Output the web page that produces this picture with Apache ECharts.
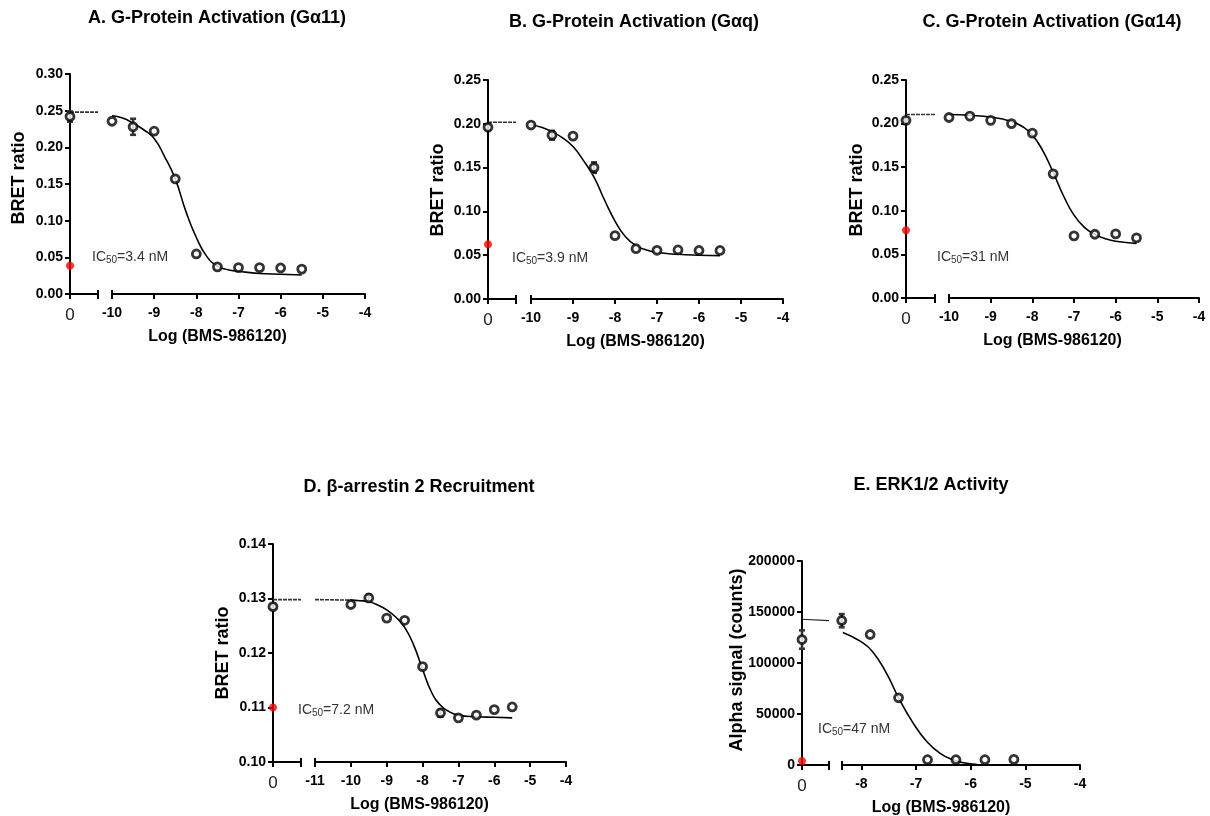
<!DOCTYPE html>
<html>
<head>
<meta charset="utf-8">
<title>BMS-986120 concentration-response</title>
<script src="https://cdn.jsdelivr.net/npm/echarts@6/dist/echarts.min.js"></script>
<style>
  html, body { margin: 0; padding: 0; background: #fff; }
  #chart { width: 1210px; height: 816px; }
</style>
</head>
<body>
<div id="chart"></div>
<script>
// dose series (log M)
const logDose = [-10, -9.5, -9, -8.5, -8, -7.5, -7, -6.5, -6, -5.5]
const logDoseE = [-8.36, -7.84, -7.32, -6.79, -6.27, -5.74, -5.21]

// A. G alpha 11
const bretA = [0.2356, 0.228, 0.222, 0.157, 0.0546, 0.037, 0.036, 0.036, 0.0355, 0.034]
const vehicleA = [0.242, 0.235, 0.249] // mean, low, high
const basalA = 0.0386
const topA = [0.248, 0.248]
const errA = [[-9.5, 0.217, 0.239]]
const fitXA = [-10, -9.75, -9.5, -9.25, -9, -8.75, -8.5, -8.25, -8, -7.75, -7.5, -7.25, -7, -6.5, -6, -5.5]
const fitYA = [0.243, 0.240, 0.233, 0.224, 0.212, 0.187, 0.157, 0.113, 0.077, 0.051, 0.038, 0.033, 0.031, 0.028, 0.027, 0.026]

// B. G alpha q
const bretB = [0.1986, 0.187, 0.186, 0.150, 0.0723, 0.0574, 0.0556, 0.056, 0.0554, 0.0554]
const vehicleB = [0.196, 0.193, 0.199]
const basalB = 0.0624
const topB = [0.2017, 0.2017]
const errB = [[-9.5, 0.182, 0.192], [-8.5, 0.144, 0.156]]
const fitXB = [-10, -9.75, -9.5, -9.25, -9, -8.75, -8.5, -8.25, -8, -7.75, -7.5, -7.25, -7, -6.5, -6, -5.5]
const fitYB = [0.199, 0.196, 0.191, 0.184, 0.174, 0.158, 0.139, 0.113, 0.089, 0.071, 0.061, 0.056, 0.053, 0.051, 0.050, 0.0495]

// C. G alpha 14
const bretC = [0.207, 0.2086, 0.2037, 0.200, 0.189, 0.1424, 0.0712, 0.0731, 0.0735, 0.0689]
const vehicleC = [0.2037, 0.2037, 0.2037]
const basalC = 0.0777
const topC = [0.2105, 0.2105]
const errC = []
const fitXC = [-10, -9.5, -9, -8.5, -8.25, -8, -7.75, -7.5, -7.25, -7, -6.75, -6.5, -6.25, -6, -5.5]
const fitYC = [0.2105, 0.2095, 0.2075, 0.2025, 0.197, 0.187, 0.169, 0.144, 0.117, 0.095, 0.081, 0.073, 0.068, 0.065, 0.0625]

// D. beta-arrestin 2
const bretD = [0.1289, 0.1301, 0.1264, 0.1260, 0.1175, 0.1090, 0.1081, 0.1086, 0.1096, 0.1101]
const vehicleD = [0.1285, 0.1281, 0.1289]
const basalD = 0.1100
const topD = [0.1298, 0.1298]
const errD = [[-9.5, 0.1295, 0.1307], [-7.5, 0.1083, 0.1096]]
const leadD = [[-11, 0.1298], [-10, 0.1297]]
const fitXD = [-10, -9.75, -9.5, -9.25, -9, -8.75, -8.5, -8.25, -8, -7.75, -7.5, -7.25, -7, -6.5, -6, -5.5]
const fitYD = [0.1297, 0.1296, 0.1294, 0.1288, 0.1279, 0.1266, 0.1247, 0.1215, 0.1170, 0.1128, 0.1104, 0.1092, 0.1086, 0.1083, 0.1082, 0.1081]

// E. ERK1/2
const alphaE = [141650, 127950, 65900, 5200, 5200, 5200, 5500]
const vehicleE = [123000, 114000, 132000]
const basalE = 3900
const topE = [142900, 141600]
const errE = [[-8.36, 135000, 148000]]
const fitXE = [-8.34, -8, -7.79, -7.54, -7.32, -7.05, -6.8, -6.56, -6.32, -6.07, -5.89]
const fitYE = [129900, 120700, 110900, 89800, 65900, 40800, 22800, 11400, 4900, 1600, 700]

const titles = ['A. G-Protein Activation (G\u03b111)', 'B. G-Protein Activation (G\u03b1q)',
  'C. G-Protein Activation (G\u03b114)', 'D. \u03b2-arrestin 2 Recruitment', 'E. ERK1/2 Activity']
const ic50Text = ['3.4 nM', '3.9 nM', '31 nM', '7.2 nM', '47 nM']
const yNames = ['BRET ratio', 'BRET ratio', 'BRET ratio', 'BRET ratio', 'Alpha signal (counts)']
const xTicksABC = [-10, -9, -8, -7, -6, -5, -4]
const xTicksD = [-11, -10, -9, -8, -7, -6, -5, -4]
const xTicksE = [-8, -7, -6, -5, -4]

const FONT = '"Liberation Sans", Arial, Helvetica, sans-serif'
const BASAL_SYMBOL = 'path://M-1,-3L1,-3L1,-1L3,-1L3,1L1,1L1,3L-1,3L-1,1L-3,1L-3,-1L-1,-1Z' +
  'M-2.8,-1.4L-1.4,-2.8L0,-1.4L1.4,-2.8L2.8,-1.4L1.4,0L2.8,1.4L1.4,2.8L0,1.4L-1.4,2.8L-2.8,1.4L-1.4,0Z'

const panels = [
  { box: { yx: 70, brk: 98, mx: 112, ex: 365, top: 74, bot: 294 }, title: [217, 18], yName: [19, 178], ic: [92, 257],
    xMin: -10, ticks: xTicksABC, yMin: 0, yMax: 0.30, yStep: 0.05, digits: 2,
    x: logDose, y: bretA, vehicle: vehicleA, basal: basalA, top: topA, err: errA, fitX: fitXA, fitY: fitYA },
  { box: { yx: 488, brk: 516, mx: 531, ex: 783, top: 80, bot: 299 }, title: [634, 22], yName: [438, 190], ic: [512, 258],
    xMin: -10, ticks: xTicksABC, yMin: 0, yMax: 0.25, yStep: 0.05, digits: 2,
    x: logDose, y: bretB, vehicle: vehicleB, basal: basalB, top: topB, err: errB, fitX: fitXB, fitY: fitYB },
  { box: { yx: 906, brk: 935, mx: 949, ex: 1199, top: 80, bot: 298 }, title: [1052, 22], yName: [857, 190], ic: [937, 257],
    xMin: -10, ticks: xTicksABC, yMin: 0, yMax: 0.25, yStep: 0.05, digits: 2,
    x: logDose, y: bretC, vehicle: vehicleC, basal: basalC, top: topC, err: errC, fitX: fitXC, fitY: fitYC },
  { box: { yx: 273, brk: 301, mx: 315, ex: 566, top: 544, bot: 762 }, title: [419, 487], yName: [223, 653], ic: [298, 710],
    xMin: -11, ticks: xTicksD, yMin: 0.10, yMax: 0.14, yStep: 0.01, digits: 2,
    x: logDose, y: bretD, vehicle: vehicleD, basal: basalD, top: topD, err: errD, fitX: fitXD, fitY: fitYD, lead: leadD },
  { box: { yx: 802, brk: 829, mx: 842, ex: 1080, top: 561, bot: 765 }, title: [931, 485], yName: [737, 660], ic: [818, 729],
    xMin: -8.355, ticks: xTicksE, yMin: 0, yMax: 200000, yStep: 50000, digits: 0, solidTop: true,
    x: logDoseE, y: alphaE, vehicle: vehicleE, basal: basalE, top: topE, err: errE, fitX: fitXE, fitY: fitYE }
]

const grid = []
const xAxis = []
const yAxis = []
const series = []
const graphic = []

const axisLine = { show: true, onZero: false, lineStyle: { color: '#000', width: 2 } }
const tickStyle = { color: '#000', width: 2 }

function renderErr(params, api) {
  const x = api.value(0)
  const lo = api.coord([x, api.value(1)])
  const hi = api.coord([x, api.value(2)])
  const st = { stroke: '#333', lineWidth: 2.5 }
  return {
    type: 'group',
    children: [
      { type: 'line', shape: { x1: lo[0], y1: lo[1], x2: hi[0], y2: hi[1] }, style: st },
      { type: 'line', shape: { x1: lo[0] - 3, y1: lo[1], x2: lo[0] + 3, y2: lo[1] }, style: st },
      { type: 'line', shape: { x1: hi[0] - 3, y1: hi[1], x2: hi[0] + 3, y2: hi[1] }, style: st }
    ]
  }
}

const openCircle = {
  type: 'scatter', symbol: 'circle', symbolSize: 8, clip: false, silent: true, z: 5,
  itemStyle: { color: '#fff', borderColor: '#000', borderWidth: 2.8 }
}

panels.forEach((p, i) => {
  const b = p.box
  const h = b.bot - b.top
  const gL = grid.length
  grid.push({ left: b.yx, top: b.top, width: b.brk - b.yx, height: h })
  const gM = grid.length
  grid.push({ left: b.mx, top: b.top, width: b.ex - b.mx, height: h })

  // control segment axis ("0")
  const xL = xAxis.length
  xAxis.push({
    type: 'value', gridIndex: gL, min: 0, max: 1, position: 'bottom',
    axisLine: axisLine, splitLine: { show: false },
    axisTick: { show: true, customValues: [0, 1], length: 5, lineStyle: tickStyle },
    axisLabel: { customValues: [0], formatter: () => '0', fontFamily: FONT, fontSize: 17, color: '#222', margin: 13 }
  })
  xAxis.push({
    type: 'value', gridIndex: gL, min: 0, max: 1, position: 'bottom',
    axisLine: { show: false }, splitLine: { show: false }, axisLabel: { show: false },
    axisTick: { show: true, inside: true, customValues: [1], length: 4, lineStyle: tickStyle }
  })
  // dose axis
  const xM = xAxis.length
  xAxis.push({
    type: 'value', gridIndex: gM, min: p.xMin, max: -4, position: 'bottom',
    axisLine: axisLine, splitLine: { show: false },
    axisTick: { show: true, customValues: [p.xMin].concat(p.ticks), length: 5, lineStyle: tickStyle },
    axisLabel: {
      customValues: p.ticks, formatter: v => String(v), fontFamily: FONT,
      fontSize: 14, fontWeight: 'bold', color: '#000', margin: 12
    }
  })
  xAxis.push({
    type: 'value', gridIndex: gM, min: p.xMin, max: -4, position: 'bottom',
    axisLine: { show: false }, splitLine: { show: false }, axisLabel: { show: false },
    axisTick: { show: true, inside: true, customValues: [p.xMin], length: 4, lineStyle: tickStyle }
  })

  const yL = yAxis.length
  yAxis.push({
    type: 'value', gridIndex: gL, min: p.yMin, max: p.yMax, interval: p.yStep,
    axisLine: axisLine, splitLine: { show: false },
    axisTick: { show: true, length: 5, lineStyle: tickStyle },
    axisLabel: {
      formatter: v => v.toFixed(p.digits), fontFamily: FONT, fontSize: 14,
      fontWeight: 'bold', color: '#000', margin: 7
    }
  })
  const yM = yAxis.length
  yAxis.push({ type: 'value', gridIndex: gM, min: p.yMin, max: p.yMax, show: false, splitLine: { show: false } })

  // control segment
  series.push({
    type: 'line', xAxisIndex: xL, yAxisIndex: yL, showSymbol: false, silent: true, z: 2,
    data: [[0, p.top[0]], [1, p.top[1]]],
    lineStyle: p.solidTop ? { color: '#222', width: 1.2 } : { color: '#333', width: 1.6, type: [4, 1] }
  })
  series.push({
    type: 'custom', xAxisIndex: xL, yAxisIndex: yL, renderItem: renderErr, clip: false, silent: true, z: 3,
    encode: { x: 0, y: [1, 2] }, data: [[0, p.vehicle[1], p.vehicle[2]]]
  })
  series.push(Object.assign({}, openCircle, { xAxisIndex: xL, yAxisIndex: yL, data: [[0, p.vehicle[0]]] }))
  series.push({
    type: 'scatter', xAxisIndex: xL, yAxisIndex: yL, symbol: BASAL_SYMBOL, symbolSize: 8,
    clip: false, silent: true, z: 6, itemStyle: { color: '#ff0000' }, data: [[0, p.basal]]
  })

  // dose-response segment
  if (p.lead) {
    series.push({
      type: 'line', xAxisIndex: xM, yAxisIndex: yM, showSymbol: false, silent: true, z: 2,
      data: p.lead, lineStyle: { color: '#333', width: 1.6, type: [4, 1] }
    })
  }
  series.push({
    type: 'line', xAxisIndex: xM, yAxisIndex: yM, showSymbol: false, silent: true, z: 2,
    smooth: 0.5,
    data: p.fitX.map((x, k) => [x, p.fitY[k]]),
    lineStyle: { color: '#000', width: 1.6 }
  })
  series.push({
    type: 'custom', xAxisIndex: xM, yAxisIndex: yM, renderItem: renderErr, clip: false, silent: true, z: 3,
    encode: { x: 0, y: [1, 2] }, data: p.err
  })
  series.push(Object.assign({}, openCircle, {
    xAxisIndex: xM, yAxisIndex: yM, data: p.x.map((x, k) => [x, p.y[k]])
  }))

  // texts
  graphic.push({
    type: 'text', x: p.title[0], y: p.title[1], silent: true,
    style: { text: titles[i], font: 'bold 18px ' + FONT, fill: '#000',
      align: 'center', verticalAlign: 'middle', textAlign: 'center', textVerticalAlign: 'middle' }
  })
  graphic.push({
    type: 'text', x: p.yName[0], y: p.yName[1], rotation: Math.PI / 2, silent: true,
    style: { text: yNames[i], font: 'bold 18px ' + FONT, fill: '#000',
      align: 'center', verticalAlign: 'middle', textAlign: 'center', textVerticalAlign: 'middle' }
  })
  graphic.push({
    type: 'text', x: (b.yx + b.ex) / 2, y: b.bot + 43, silent: true,
    style: { text: 'Log (BMS-986120)', font: 'bold 16px ' + FONT, fill: '#000',
      align: 'center', verticalAlign: 'middle', textAlign: 'center', textVerticalAlign: 'middle' }
  })
  graphic.push({
    type: 'text', x: p.ic[0], y: p.ic[1], silent: true,
    style: {
      text: '{n|IC}{s|50}{n|=' + ic50Text[i] + '}',
      align: 'left', verticalAlign: 'middle', textAlign: 'left', textVerticalAlign: 'middle',
      rich: {
        n: { fontSize: 14, fontFamily: FONT, fill: '#333', color: '#333' },
        s: { fontSize: 10, fontFamily: FONT, fill: '#333', color: '#333', padding: [6, 0, 0, 0] }
      }
    }
  })
})

const chart = echarts.init(document.getElementById('chart'))
chart.setOption({
  backgroundColor: '#fff',
  animation: false,
  grid: grid,
  xAxis: xAxis,
  yAxis: yAxis,
  series: series,
  graphic: graphic
})
</script>
</body>
</html>
